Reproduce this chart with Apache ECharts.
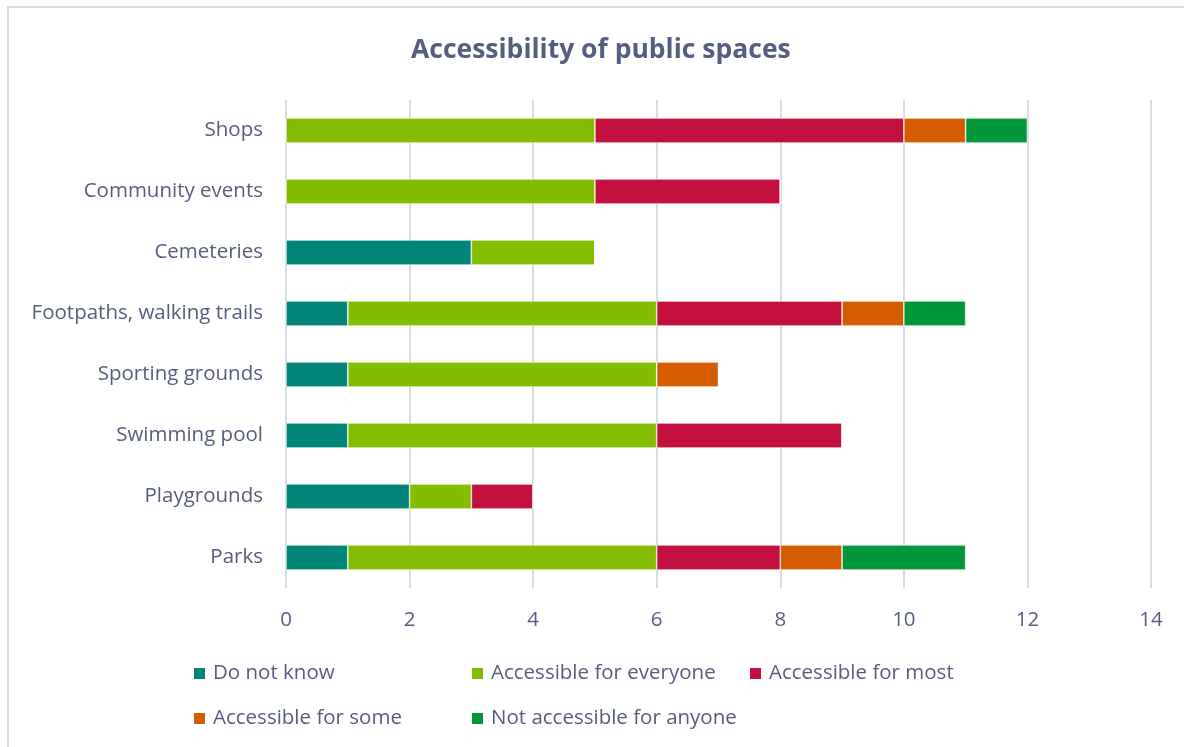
<!DOCTYPE html>
<html>
<head>
<meta charset="utf-8">
<script src="https://cdn.jsdelivr.net/npm/echarts@6/dist/echarts.min.js"></script>
<style>
  html, body { margin: 0; padding: 0; background: #fff; }
  #chart { width: 1184px; height: 747px; }
</style>
</head>
<body>
<div id="chart"></div>
<script>
// Places, listed bottom to top as they appear on the category axis
const places = ['Parks', 'Playgrounds', 'Swimming pool', 'Sporting grounds',
  'Footpaths, walking trails', 'Cemeteries', 'Community events', 'Shops'];

// Number of responses per place for each accessibility rating
const doNotKnow      = [1, 2, 1, 1, 1, 3, 0, 0];
const forEveryone    = [5, 1, 5, 5, 5, 2, 5, 5];
const forMost        = [2, 1, 3, 0, 3, 0, 3, 5];
const forSome        = [1, 0, 0, 1, 1, 0, 0, 1];
const notForAnyone   = [2, 0, 0, 0, 1, 0, 0, 1];

const seriesNames = ['Do not know', 'Accessible for everyone', 'Accessible for most',
  'Accessible for some', 'Not accessible for anyone'];
const seriesData = [doNotKnow, forEveryone, forMost, forSome, notForAnyone];
const seriesColors = ['#008576', '#84bd00', '#c4103f', '#d65c00', '#00973a'];

const textColor = '#555d80';
const font = '"Open Sans", "Noto Sans", sans-serif';

// Legend entries laid out in fixed columns, two rows
const legendSlots = [[192, 663], [470, 663], [748, 663], [192, 708], [470, 708]];
const legends = seriesNames.map((name, i) => ({
  orient: 'horizontal',
  left: legendSlots[i][0],
  top: legendSlots[i][1],
  padding: 0,
  itemWidth: 13,
  itemHeight: 13,
  icon: 'rect',
  data: [name],
  textStyle: { color: textColor, fontSize: 20.5, fontFamily: font, padding: [0, 0, 0, 2] }
}));

const chart = echarts.init(document.getElementById('chart'), null, { renderer: 'canvas' });

chart.setOption({
  animation: false,
  backgroundColor: '#fff',
  graphic: [{
    type: 'rect',
    shape: { x: 8, y: 7, width: 1200, height: 760 },
    style: { fill: 'none', stroke: '#d6d9e6', lineWidth: 2 },
    silent: true,
    z: -1
  }],
  title: {
    text: 'Accessibility of public spaces',
    left: 406,
    top: 32,
    textStyle: { color: textColor, fontSize: 26.5, fontWeight: 'bold', fontFamily: font }
  },
  legend: legends,
  grid: { left: 286, right: 33, top: 100, height: 488, containLabel: false },
  xAxis: {
    type: 'value',
    min: 0,
    max: 14,
    interval: 2,
    axisLine: { show: false },
    axisTick: { show: false },
    axisLabel: { color: textColor, fontSize: 20.5, fontFamily: font, margin: 22 },
    splitLine: { show: true, lineStyle: { color: '#d9dbe7', width: 2 } }
  },
  yAxis: {
    type: 'category',
    data: places,
    axisLine: { show: false },
    axisTick: { show: false },
    axisLabel: { color: textColor, fontSize: 20.5, fontFamily: font, margin: 23 }
  },
  series: seriesNames.map((name, i) => ({
    name: name,
    type: 'bar',
    stack: 'total',
    barWidth: 25,
    data: seriesData[i],
    itemStyle: { color: seriesColors[i], borderColor: '#ffffff', borderWidth: 0.6 }
  }))
});
</script>
</body>
</html>
